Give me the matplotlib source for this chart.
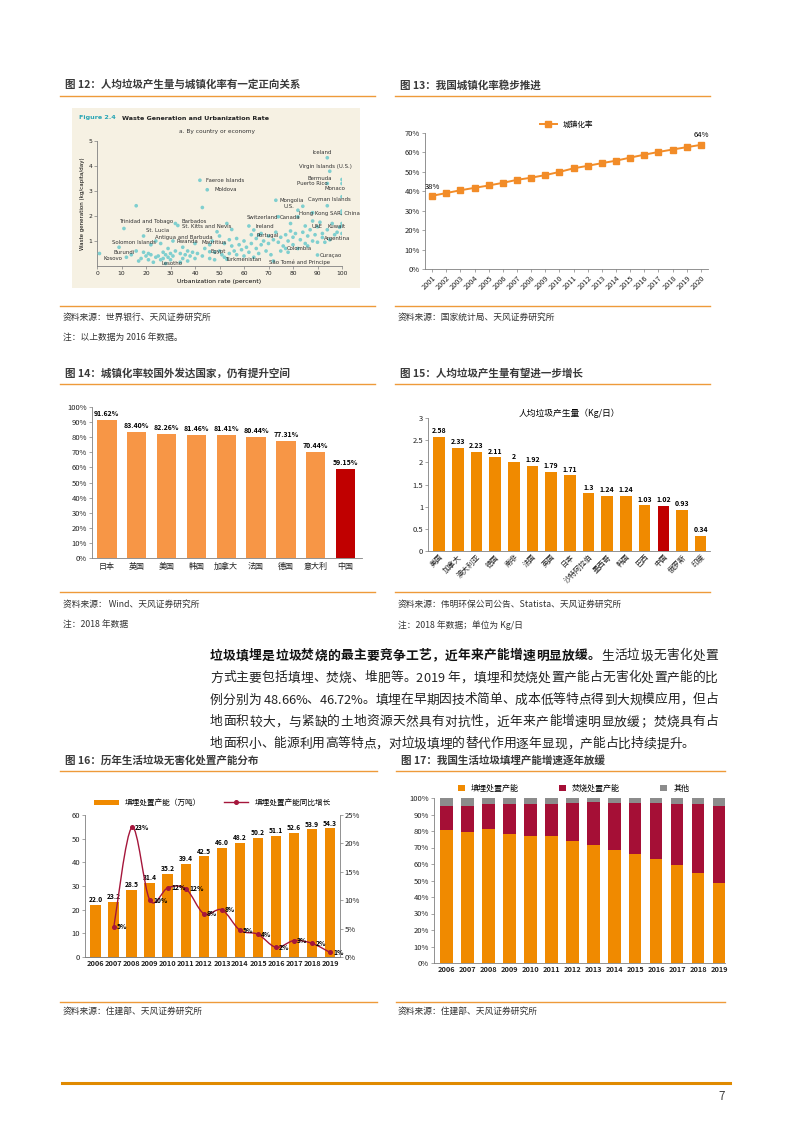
import matplotlib
matplotlib.use("Agg")
import matplotlib.pyplot as plt
from matplotlib.lines import Line2D
from matplotlib.path import Path
from matplotlib.patches import PathPatch

plt.rcParams['font.family'] = ['Noto Sans CJK SC', 'DejaVu Sans']

# ---------------- data ----------------
# fig 12: waste generation vs urbanization (World Bank, 2016)
urban_rate = [1, 9, 11, 12, 14, 16, 16, 17, 18, 19, 19, 20, 21, 21, 22, 22, 23, 24, 24, 25, 26, 26,
              27, 27, 28, 28, 29, 29, 30, 30, 31, 31, 32, 32, 33, 34, 34, 35, 35, 36, 37, 37, 38,
              39, 40, 40, 41, 42, 43, 43, 44, 45, 46, 46, 46, 47, 48, 48, 49, 50, 50, 51, 52, 52,
              53, 53, 54, 54, 55, 55, 56, 57, 57, 58, 59, 60, 60, 61, 62, 62, 63, 63, 64, 64, 65,
              65, 66, 66, 67, 67, 68, 69, 70, 70, 71, 72, 72, 73, 73, 74, 74, 75, 75, 76, 77, 77,
              78, 78, 79, 79, 80, 80, 81, 82, 82, 82, 83, 84, 84, 85, 85, 86, 86, 87, 88, 88, 88,
              89, 90, 90, 90, 91, 92, 92, 93, 94, 94, 94, 94, 95, 95, 96, 97, 98, 99, 100, 100,
              100, 100, 100, 100, 100, 100]
waste_gen = [0.5, 0.75, 1.5, 0.35, 0.45, 2.41, 0.6, 0.2, 0.3, 1.2, 0.55, 0.4, 0.25, 0.5, 0.85, 0.45,
             0.15, 0.35, 1.0, 0.4, 0.9, 0.25, 0.55, 0.3, 0.45, 0.1, 0.7, 0.35, 0.5, 0.25, 1.0, 0.4,
             1.7, 0.6, 1.62, 0.5, 0.15, 0.75, 0.3, 0.45, 0.6, 0.2, 0.4, 0.55, 0.3, 0.9, 0.5, 3.43,
             2.34, 0.4, 0.7, 3.05, 0.85, 0.3, 0.57, 1.0, 0.55, 0.25, 1.37, 0.6, 1.2, 0.45, 0.9,
             0.35, 1.7, 0.27, 1.05, 0.5, 0.8, 1.46, 0.6, 1.1, 0.45, 0.85, 0.65, 1.0, 0.4, 0.75,
             1.6, 0.55, 0.9, 1.25, 0.35, 1.44, 1.1, 0.7, 0.5, 1.24, 1.3, 0.85, 1.0, 0.6, 1.2, 0.9,
             0.45, 1.05, 0.2, 2.63, 1.35, 0.95, 1.97, 0.6, 1.15, 0.8, 0.7, 1.25, 1.0, 0.55, 1.4,
             1.7, 0.85, 1.15, 1.3, 0.7, 1.97, 2.23, 1.05, 1.35, 2.39, 1.6, 0.9, 1.2, 0.8, 1.45,
             1.0, 1.8, 2.13, 1.25, 0.44, 0.95, 1.57, 1.75, 1.3, 1.14, 0.95, 4.33, 3.3, 1.45, 2.41,
             3.79, 1.05, 1.7, 1.25, 1.35, 1.55, 3.46, 3.3, 2.77, 2.1, 1.6, 1.3, 1.7, 2.2]
scatter_names = ['Iceland', 'Virgin Islands (U.S.)', 'Bermuda', 'Puerto Rico', 'Monaco',
                 'Faeroe Islands', 'Moldova', 'Mongolia', 'U.S.', 'Cayman Islands',
                 'Hong Kong SAR, China', 'Switzerland', 'Canada', 'Trinidad and Tobago',
                 'Barbados', 'St. Kitts and Nevis', 'Ireland', 'UAE', 'Kuwait', 'St. Lucia',
                 'Antigua and Barbuda', 'Rwanda', 'Mauritius', 'Portugal', 'Argentina',
                 'Solomon Islands', 'Colombia', 'Burundi', 'Kosovo', 'Egypt', 'Curaçao',
                 'Lesotho', 'Turkmenistan', 'São Tomé and Principe']

# fig 13: China urbanization rate
years13 = [str(y) for y in range(2001, 2021)]
urban_cn = [37.66, 39.09, 40.53, 41.76, 42.99, 44.34, 45.89, 46.99, 48.34, 49.95,
            51.83, 53.10, 54.49, 55.75, 57.33, 58.84, 60.24, 61.50, 62.71, 63.89]

# fig 14: urbanization rate by country, 2018
countries14 = ['日本', '英国', '美国', '韩国', '加拿大', '法国', '德国', '意大利', '中国']
urban14 = [91.62, 83.40, 82.26, 81.46, 81.41, 80.44, 77.31, 70.44, 59.15]

# fig 15: waste per capita, kg/day
countries15 = ['美国', '加拿大', '澳大利亚', '德国', '南非', '法国', '英国', '日本', '沙特阿拉伯',
               '墨西哥', '韩国', '巴西', '中国', '俄罗斯', '印度']
waste15 = [2.58, 2.33, 2.23, 2.11, 2, 1.92, 1.79, 1.71, 1.3, 1.24, 1.24, 1.03, 1.02, 0.93, 0.34]
waste15_lbl = ['2.58', '2.33', '2.23', '2.11', '2', '1.92', '1.79', '1.71', '1.3', '1.24', '1.24',
               '1.03', '1.02', '0.93', '0.34']

# fig 16: landfill capacity (万吨) and yoy growth
years16 = [str(y) for y in range(2006, 2020)]
landfill_cap = [22.0, 23.2, 28.5, 31.4, 35.2, 39.4, 42.5, 46.0, 48.2, 50.2, 51.1, 52.6, 53.9, 54.3]
landfill_yoy = [5.3, 22.8, 10.0, 12.2, 12.0, 7.6, 8.3, 4.7, 4.0, 1.7, 2.9, 2.4, 0.8]

# fig 17: share of treatment capacity
landfill_share = [80.5, 79.6, 81.1, 77.9, 76.8, 76.7, 73.8, 71.3, 68.5, 66.0, 62.8, 59.4, 54.5, 48.66]
incin_share = [14.7, 15.6, 15.3, 18.5, 19.4, 19.5, 23.1, 26.3, 28.5, 30.9, 34.0, 37.2, 41.7, 46.72]
other_share = [4.8, 4.8, 3.6, 3.6, 3.8, 3.8, 3.1, 2.4, 3.0, 3.1, 3.2, 3.4, 3.8, 4.62]

# ---------------- layout helpers ----------------
W, H = 793, 1122
fig = plt.figure(figsize=(W / 100, H / 100), dpi=100)
fig.patch.set_facecolor('white')
r = fig.canvas.get_renderer()

SEP = '#EE9A3A'
TXT = '#333333'
ORANGE = '#F08A00'


def box(x0, y0, x1, y1):
    return fig.add_axes([x0 / W, 1 - y1 / H, (x1 - x0) / W, (y1 - y0) / H])


def txt(x, y, s, **kw):
    kw.setdefault('va', 'center')
    kw.setdefault('color', TXT)
    return fig.text(x / W, 1 - y / H, s, **kw)


def hline(x0, x1, y, color=SEP, lw=1.0):
    fig.add_artist(Line2D([x0 / W, x1 / W], [1 - y / H, 1 - y / H], color=color, lw=lw))


def style(ax, size=5.5):
    for s in ['top', 'right']:
        ax.spines[s].set_visible(False)
    for s in ['left', 'bottom']:
        ax.spines[s].set_color('#808080')
        ax.spines[s].set_linewidth(0.6)
    ax.tick_params(labelsize=size, length=2, width=0.5, color='#808080', pad=1.5, colors='#222222')
    ax.set_facecolor('none')


def header(x0, x1, y, title):
    txt(x0 + 5, y, title, fontsize=7.6, fontweight='bold', color='#3a3a3a')
    hline(x0, x1, y + 11)


def char_width(ch, size, weight):
    if ch == ' ':
        return size * 0.3
    t = fig.text(0, 0, ch, fontsize=size, fontweight=weight)
    w = t.get_window_extent(r).width
    t.remove()
    return w


def para_line(x0, x1, y, segments, size, justify=True):
    # segments: list of (text, weight, color)
    chars = [(c, wt, col) for s, wt, col in segments for c in s]
    widths = [char_width(c, size, wt) for c, wt, col in chars]
    gap = 0
    if justify and len(chars) > 1:
        gap = (x1 - x0 - sum(widths)) / (len(chars) - 1)
    x = x0
    for (c, wt, col), w in zip(chars, widths):
        if c != ' ':
            fig.text(x / W, 1 - y / H, c, fontsize=size, fontweight=wt, color=col, va='center')
        x += w + gap


def smooth_path(xs, ys):
    # catmull-rom style bezier through the points (like Excel smoothed lines)
    pts = list(zip(xs, ys))
    verts = [pts[0]]
    codes = [Path.MOVETO]
    n = len(pts)
    for i in range(n - 1):
        p0 = pts[max(i - 1, 0)]
        p1 = pts[i]
        p2 = pts[i + 1]
        p3 = pts[min(i + 2, n - 1)]
        c1 = (p1[0] + (p2[0] - p0[0]) / 6, p1[1] + (p2[1] - p0[1]) / 6)
        c2 = (p2[0] - (p3[0] - p1[0]) / 6, p2[1] - (p3[1] - p1[1]) / 6)
        verts += [c1, c2, p2]
        codes += [Path.CURVE4] * 3
    return Path(verts, codes)


# titles / sources
header(60, 375, 85, '图 12：人均垃圾产生量与城镇化率有一定正向关系')
header(395, 710, 85, '图 13：我国城镇化率稳步推进')
hline(60, 375, 306)
hline(395, 710, 306)
txt(63, 317, '资料来源：世界银行、天风证券研究所', fontsize=6.3)
txt(63, 338, '注：以上数据为 2016 年数据。', fontsize=6.3)
txt(398, 317, '资料来源：国家统计局、天风证券研究所', fontsize=6.3)

header(60, 375, 373, '图 14：城镇化率较国外发达国家，仍有提升空间')
header(395, 710, 373, '图 15：人均垃圾产生量有望进一步增长')
hline(60, 375, 592)
hline(395, 710, 592)
txt(63, 604, '资料来源： Wind、天风证券研究所', fontsize=6.3)
txt(63, 625, '注：2018 年数据', fontsize=6.3)
txt(398, 604, '资料来源：伟明环保公司公告、Statista、天风证券研究所', fontsize=6.3)
txt(398, 625, '注：2018 年数据；单位为 Kg/日', fontsize=6.3)

header(60, 377, 760, '图 16：历年生活垃圾无害化处置产能分布')
header(396, 725, 760, '图 17：我国生活垃圾填埋产能增速逐年放缓')
hline(60, 377, 1002)
hline(396, 725, 1002)
txt(63, 1011, '资料来源：住建部、天风证券研究所', fontsize=6.3)
txt(398, 1011, '资料来源：住建部、天风证券研究所', fontsize=6.3)

hline(62, 730, 1083, color='#E08A00', lw=2.2)
txt(722, 1096, '7', fontsize=8.5, ha='center', color='#444444')

# paragraph (justified like the report)
para_bold = '垃圾填埋是垃圾焚烧的最主要竞争工艺，近年来产能增速明显放缓。'
para_lines = ['生活垃圾无害化处置',
              '方式主要包括填埋、焚烧、堆肥等。2019 年，填埋和焚烧处置产能占无害化处置产能的比',
              '例分别为 48.66%、46.72%。填埋在早期因技术简单、成本低等特点得到大规模应用，但占',
              '地面积较大，与紧缺的土地资源天然具有对抗性，近年来产能增速明显放缓；焚烧具有占',
              '地面积小、能源利用高等特点，对垃圾填埋的替代作用逐年显现，产能占比持续提升。']
PSIZE = 9.2
para_line(210, 718, 656, [(para_bold, 'bold', '#111111'), (para_lines[0], 'normal', '#222222')], PSIZE)
for i, line in enumerate(para_lines[1:]):
    last = i == len(para_lines) - 2
    para_line(210, 718, 678 + 22 * i, [(line, 'normal', '#222222')], PSIZE, justify=not last)

# ---------------- fig 12 scatter ----------------
bg = box(72, 108, 360, 288)
bg.set_facecolor('#F6F1E3')
bg.set_xticks([])
bg.set_yticks([])
for s in bg.spines.values():
    s.set_visible(False)
txt(79, 118, 'Figure 2.4', fontsize=4.6, fontweight='bold', color='#2aa6b5', family='DejaVu Sans')
txt(122, 118, 'Waste Generation and Urbanization Rate', fontsize=4.6, fontweight='bold',
    color='#222222', family='DejaVu Sans')
txt(217, 132, 'a. By country or economy', fontsize=4.2, ha='center', family='DejaVu Sans')

ax = box(97, 141, 342, 266)
style(ax, 4.3)
ax.scatter(urban_rate, waste_gen, s=7, color='#7fcfcf', edgecolors='none', zorder=3)
ax.set_xlim(0, 100)
ax.set_ylim(0, 5)
ax.set_xticks(range(0, 101, 10))
ax.set_yticks([1, 2, 3, 4, 5])
for t in ax.get_xticklabels() + ax.get_yticklabels():
    t.set_family('DejaVu Sans')
ax.set_xlabel('Urbanization rate (percent)', fontsize=4.4, family='DejaVu Sans', labelpad=2)
ax.set_ylabel('Waste generation (kg/capita/day)', fontsize=4.0, family='DejaVu Sans', labelpad=2)
name_pos = [(88, 4.55), (82.6, 3.96), (86, 3.5), (81.5, 3.3), (93, 3.1), (44.5, 3.42), (48, 3.05),
            (74.6, 2.6), (76.2, 2.36), (86, 2.66), (82.5, 2.12), (61, 1.95), (74.6, 1.93), (9, 1.8),
            (34.5, 1.78), (34.5, 1.6), (64.8, 1.6), (87.6, 1.58), (94, 1.58), (19.8, 1.4),
            (23.8, 1.15), (32.5, 0.97), (42.5, 0.92), (65.2, 1.22), (92.6, 1.1), (6.1, 0.93),
            (77.5, 0.7), (6.8, 0.55), (2.8, 0.32), (46.3, 0.6), (91, 0.42), (26.2, 0.1),
            (52.3, 0.25), (70.2, 0.15)]
for name, (px, py) in zip(scatter_names, name_pos):
    ax.text(px, py, name, fontsize=3.9, family='DejaVu Sans', color='#333333', va='center',
            zorder=4, clip_on=False)

# ---------------- fig 13 line ----------------
ax = box(425, 133, 708, 269)
style(ax)
x13 = range(len(years13))
ax.plot(x13, urban_cn, color='#F28C28', lw=1.4, marker='s', ms=4.2, mec='#F28C28', label='城镇化率')
ax.set_xlim(-0.5, 19.5)
ax.set_ylim(0, 70)
ax.set_yticks(range(0, 71, 10))
ax.set_yticklabels([f'{v}%' for v in range(0, 71, 10)])
ax.set_xticks(list(x13))
ax.set_xticklabels(years13, rotation=45, ha='right', rotation_mode='anchor', fontsize=5.3)
ax.text(0, urban_cn[0] + 3.5, f'{urban_cn[0]:.0f}%', fontsize=5.5, ha='center')
ax.text(19, urban_cn[-1] + 4, f'{urban_cn[-1]:.0f}%', fontsize=5.5, ha='center')
ax.legend(loc='lower center', bbox_to_anchor=(0.5, 1.0), frameon=False, fontsize=5.5,
          handlelength=2.2, borderaxespad=0.2)

# ---------------- fig 14 bars ----------------
ax = box(92, 407, 362, 558)
style(ax)
c14 = ['#F79646'] * (len(urban14) - 1) + ['#C00000']
ax.bar(range(len(urban14)), urban14, width=0.65, color=c14)
ax.set_xlim(-0.5, 8.55)
ax.set_ylim(0, 100)
ax.set_yticks(range(0, 101, 10))
ax.set_yticklabels([f'{v}%' for v in range(0, 101, 10)])
ax.set_xticks(range(len(countries14)))
ax.set_xticklabels(countries14, fontsize=5.8)
ax.tick_params(axis='x', length=0, pad=3)
for i, v in enumerate(urban14):
    ax.text(i, v + 2, f'{v:.2f}%', fontsize=5, ha='center', va='bottom', fontweight='bold')

# ---------------- fig 15 bars ----------------
ax = box(428, 418, 710, 551)
style(ax)
c15 = [ORANGE] * len(waste15)
c15[countries15.index('中国')] = '#C00000'
ax.bar(range(len(waste15)), waste15, width=0.62, color=c15)
ax.set_xlim(-0.6, 14.5)
ax.set_ylim(0, 3)
ax.set_yticks([0, 0.5, 1, 1.5, 2, 2.5, 3])
ax.set_yticklabels(['0', '0.5', '1', '1.5', '2', '2.5', '3'])
ax.set_xticks(range(len(countries15)))
ax.set_xticklabels(countries15, rotation=45, ha='right', rotation_mode='anchor', fontsize=5.3)
ax.tick_params(axis='x', length=0)
for i, v in enumerate(waste15):
    ax.text(i, v + 0.06, waste15_lbl[i], fontsize=5, ha='center', va='bottom', fontweight='bold')
ax.set_title('人均垃圾产生量（Kg/日）', fontsize=6.3, pad=1)

# ---------------- fig 16 bars + line ----------------
ax = box(85, 815, 340, 957)
style(ax)
x16 = list(range(len(years16)))
ax.bar(x16, landfill_cap, width=0.6, color=ORANGE, label='填埋处置产能（万吨）')
ax.set_xlim(-0.6, 13.55)
ax.set_ylim(0, 60)
ax.set_yticks(range(0, 61, 10))
ax.set_xticks(x16)
ax.set_xticklabels(years16, fontsize=5.3, fontweight='bold')
ax.tick_params(axis='x', length=0, pad=2)
for i, v in enumerate(landfill_cap):
    ax.text(i, v + 0.8, f'{v:.1f}', fontsize=4.8, ha='center', va='bottom', fontweight='bold')
ax2 = ax.twinx()
style(ax2)
ax2.spines['right'].set_visible(True)
ax2.spines['right'].set_color('#808080')
ax2.spines['right'].set_linewidth(0.6)
ax2.spines['left'].set_visible(False)
LINE = '#A5163B'
ax2.add_patch(PathPatch(smooth_path(x16[1:], landfill_yoy), facecolor='none', edgecolor=LINE, lw=1.0))
ax2.plot(x16[1:], landfill_yoy, color=LINE, lw=0, marker='o', ms=2.6)
ax2.plot([], [], color=LINE, lw=1.0, marker='o', ms=2.6, label='填埋处置产能同比增长')
ax2.set_ylim(0, 25)
ax2.set_yticks(range(0, 26, 5))
ax2.set_yticklabels([f'{v}%' for v in range(0, 26, 5)])
for i, v in zip(x16[1:], landfill_yoy):
    ax2.text(i + 0.18, v, f'{v:.0f}%', fontsize=4.8, va='center', fontweight='bold')
h1, l1 = ax.get_legend_handles_labels()
h2, l2 = ax2.get_legend_handles_labels()
ax2.legend(h1 + h2, l1 + l2, loc='lower center', bbox_to_anchor=(0.5, 1.02), ncol=2,
           frameon=False, fontsize=5.5, handlelength=3.2, handleheight=0.6, columnspacing=3,
           borderaxespad=0.3)

# ---------------- fig 17 stacked ----------------
ax = box(434, 798, 725, 963)
style(ax)
x17 = list(range(len(years16)))
ax.bar(x17, landfill_share, width=0.6, color=ORANGE, label='填埋处置产能')
ax.bar(x17, incin_share, width=0.6, bottom=landfill_share, color='#A50F36', label='焚烧处置产能')
tops = [a + b for a, b in zip(landfill_share, incin_share)]
ax.bar(x17, other_share, width=0.6, bottom=tops, color='#8C8C8C', label='其他')
ax.set_xlim(-0.59, 13.28)
ax.set_ylim(0, 100)
ax.set_yticks(range(0, 101, 10))
ax.set_yticklabels([f'{v}%' for v in range(0, 101, 10)])
ax.set_xticks(x17)
ax.set_xticklabels(years16, fontsize=5.3, fontweight='bold')
ax.tick_params(axis='x', length=0, pad=2)
ax.legend(loc='lower center', bbox_to_anchor=(0.48, 1.0), ncol=3, frameon=False, fontsize=5.8,
          handlelength=0.8, handleheight=0.8, columnspacing=5, borderaxespad=0.2)

fig.savefig('out.png', dpi=100)
